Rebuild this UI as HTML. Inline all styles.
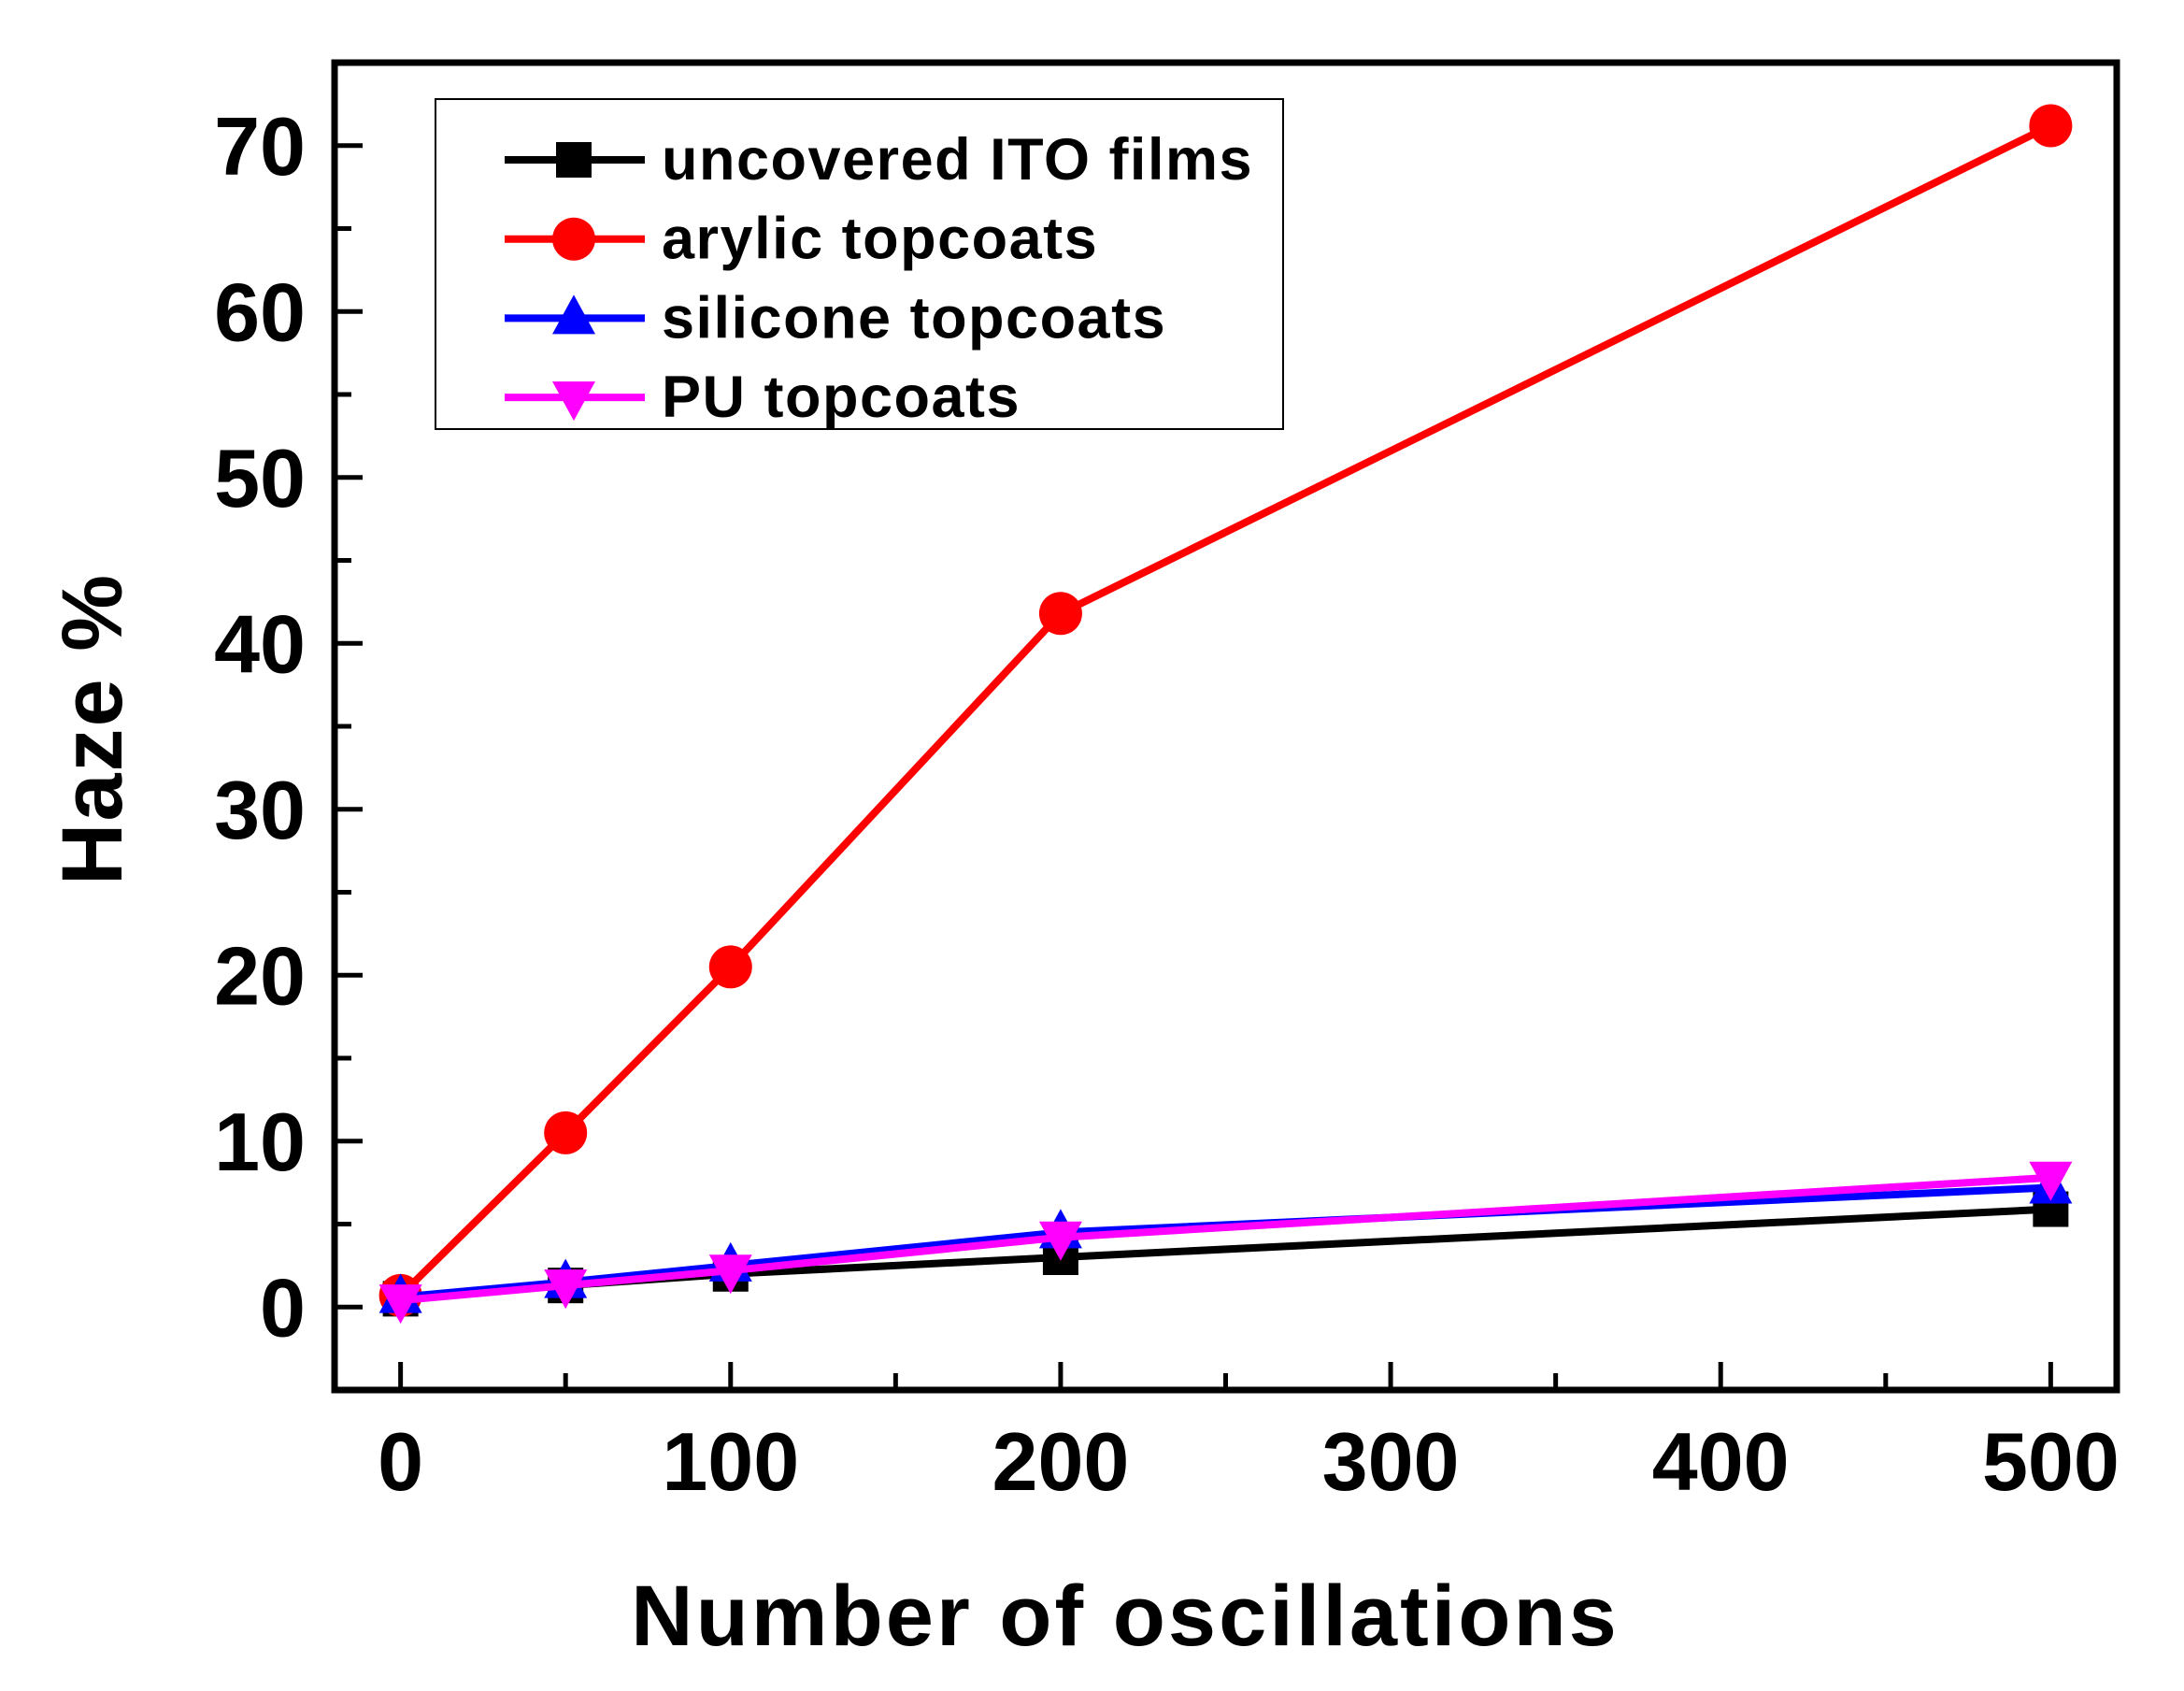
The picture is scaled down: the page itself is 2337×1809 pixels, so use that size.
<!DOCTYPE html>
<html><head><meta charset="utf-8"><style>
html,body{margin:0;padding:0;background:#fff;}
svg{display:block;font-family:"Liberation Sans",Arial,sans-serif;font-weight:bold;}
</style></head><body>
<svg id="chart" width="2337" height="1809" viewBox="0 0 2337 1809" xmlns="http://www.w3.org/2000/svg">
<rect x="0" y="0" width="2337" height="1809" fill="#fff"/>
<g id="plot"></g>
</svg>
<script>
const categories = [0, 50, 100, 200, 500];
const uncovered = [0.5, 1.3, 2.0, 3.0, 5.9];
const arylic = [0.7, 10.5, 20.5, 41.8, 71.2];
const silicone = [0.6, 1.5, 2.5, 4.5, 7.2];
const pu = [0.4, 1.3, 2.2, 4.2, 7.8];
const xTicks = [0, 100, 200, 300, 400, 500];
const yTicks = [0, 10, 20, 30, 40, 50, 60, 70];
const legendLabels = ["uncovered ITO films", "arylic topcoats", "silicone topcoats", "PU topcoats"];

const L = 358, R = 2265, T = 67, B = 1487;
const xMin = -20, xMax = 520, yMin = -5, yMax = 75;
const sx = v => L + (v - xMin) / (xMax - xMin) * (R - L);
const sy = v => B - (v - yMin) / (yMax - yMin) * (B - T);
const NS = "http://www.w3.org/2000/svg";
const g = document.getElementById('plot');
function mk(tag, attrs, parent) {
  const e = document.createElementNS(NS, tag);
  for (const k in attrs) e.setAttribute(k, attrs[k]);
  (parent || g).appendChild(e);
  return e;
}
for (let v = 0; v <= 500; v += 50) {
  const major = v % 100 === 0;
  const t = mk('line', {x1: sx(v), x2: sx(v), y1: B, y2: B - (major ? 30 : 18), stroke: '#000', 'stroke-width': 5});
  
  
}
for (let v = -5; v <= 75; v += 5) {
  const major = v % 10 === 0;
  const t = mk('line', {x1: L, x2: L + (major ? 30 : 18), y1: sy(v), y2: sy(v), stroke: '#000', 'stroke-width': 5});
  
  
}
xTicks.forEach(v => {
  const t = mk('text', {x: sx(v), y: 1594, 'text-anchor': 'middle', 'font-size': 88, fill: '#000'});
  t.textContent = v;
  
  
});
yTicks.forEach(v => {
  const t = mk('text', {x: 327, y: sy(v) + 31, 'text-anchor': 'end', 'font-size': 88, fill: '#000'});
  t.textContent = v;
  
  
});
const fr = mk('rect', {x: L, y: T, width: R - L, height: B - T, fill: 'none', stroke: '#000', 'stroke-width': 7});


const xt = mk('text', {x: 1204, y: 1760, 'text-anchor': 'middle', 'font-size': 92, 'letter-spacing': 3, fill: '#000'});
xt.textContent = 'Number of oscillations';


const yt = mk('text', {x: 0, y: 0, 'text-anchor': 'middle', 'font-size': 92, 'letter-spacing': 2, fill: '#000', transform: 'translate(130,780) rotate(-90)', 'xml:space': 'preserve'});
yt.textContent = 'Haze   %';



function marker(type, x, y, color, parent) {
  let e;
  if (type === 'square') e = mk('rect', {x: x - 19, y: y - 19, width: 38, height: 38, fill: color}, parent);
  else if (type === 'circle') e = mk('circle', {cx: x, cy: y, r: 23, fill: color}, parent);
  else if (type === 'up') e = mk('polygon', {points: `${x},${y - 25} ${x + 23},${y + 17} ${x - 23},${y + 17}`, fill: color}, parent);
  else e = mk('polygon', {points: `${x},${y + 25} ${x + 23},${y - 17} ${x - 23},${y - 17}`, fill: color}, parent);
  return e;
}
const series = [
  {name: 'uncovered', vals: uncovered, color: '#000', m: 'square'},
  {name: 'arylic', vals: arylic, color: '#ff0000', m: 'circle'},
  {name: 'silicone', vals: silicone, color: '#0000ff', m: 'up'},
  {name: 'pu', vals: pu, color: '#ff00ff', m: 'down'}
];
series.forEach(s => {
  const grp = mk('g', {});
  
  
  const pts = categories.map((c, i) => sx(c) + ',' + sy(s.vals[i])).join(' ');
  const pl = mk('polyline', {points: pts, fill: 'none', stroke: s.color, 'stroke-width': 8}, grp);
  
  
  categories.forEach((c, i) => {
    const p = marker(s.m, sx(c), sy(s.vals[i]), s.color, grp);
    
    
  });
});
const lg = mk('g', {});


const lb = mk('rect', {x: 466, y: 106, width: 907, height: 353, fill: '#fff', stroke: '#000', 'stroke-width': 2}, lg);


legendLabels.forEach((lab, i) => {
  const y = 171 + i * 84.7;
  const s = series[i];
  const ln = mk('line', {x1: 540, x2: 690, y1: y, y2: y, stroke: s.color, 'stroke-width': 8}, lg);
  
  
  const mm = marker(s.m, 614, y, s.color, lg);
  
  
  const t = mk('text', {x: 708, y: y + 21, 'font-size': 63, 'letter-spacing': 1.5, fill: '#000'}, lg);
  t.textContent = lab;
  
  
});
</script>
</body></html>
